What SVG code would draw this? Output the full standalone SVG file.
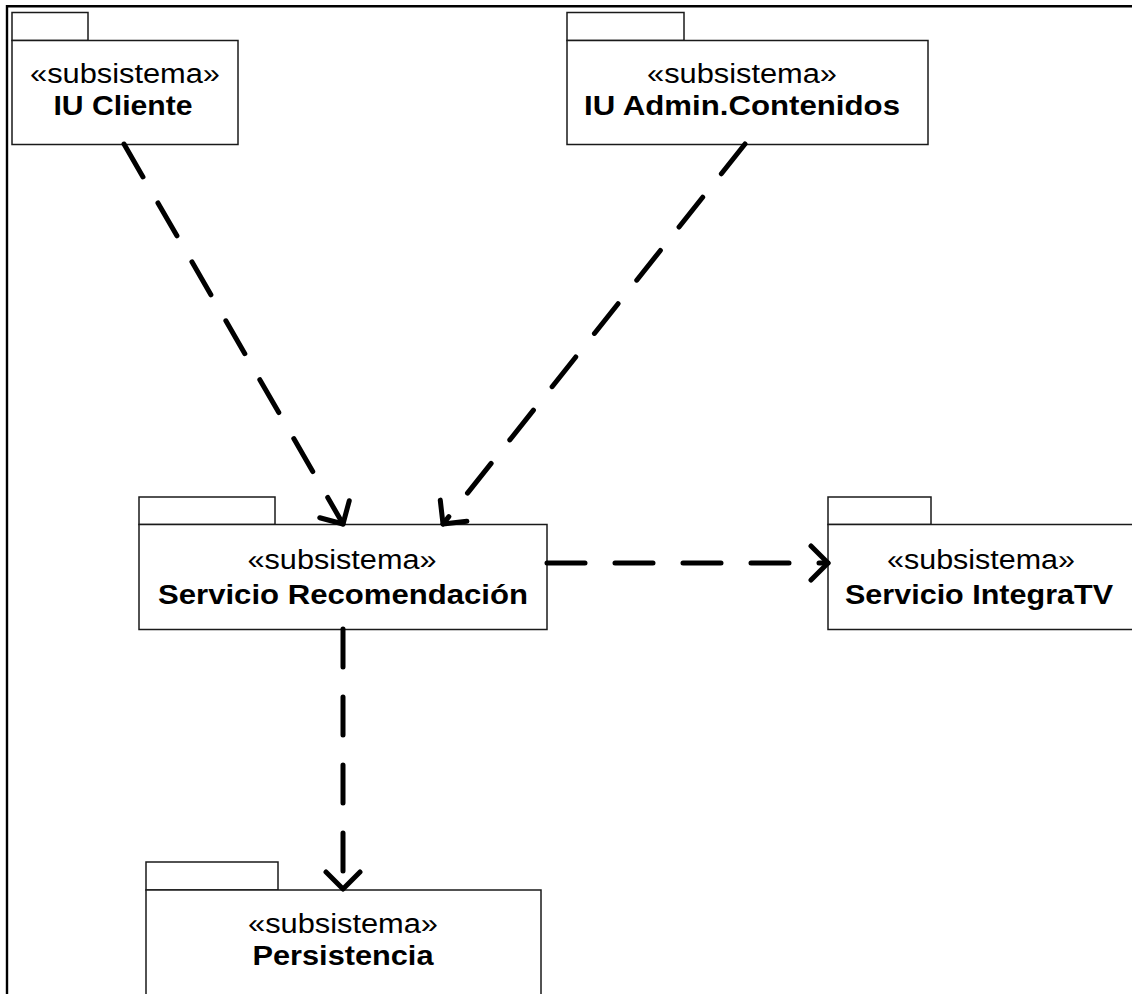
<svg xmlns="http://www.w3.org/2000/svg" width="1132" height="994" viewBox="0 0 1132 994">
  <style>
    .pkg { fill: #ffffff; stroke: #1a1a1a; stroke-width: 1.5; }
    .st { font-family: "Liberation Sans", Arial, sans-serif; font-size: 27px; fill: #000; text-anchor: middle; }
    .nm { font-family: "Liberation Sans", Arial, sans-serif; font-size: 27px; font-weight: bold; fill: #000; text-anchor: middle; }
    .dep { fill: none; stroke: #000; stroke-width: 5; stroke-linecap: round; stroke-dasharray: 38 30; }
    .frame { fill: none; stroke: #000; stroke-width: 2.4; }
  </style>
  <defs>
    <marker id="open" markerUnits="userSpaceOnUse" viewBox="-26 -20 30 40" refX="0" refY="0" markerWidth="30" markerHeight="40" orient="auto">
      <path d="M -17 -17 L 0 0 L -17 17" fill="none" stroke="#000" stroke-width="5" stroke-linecap="round" stroke-linejoin="round"/>
    </marker>
  </defs>

  <rect width="1132" height="994" fill="#ffffff"/>

  <!-- diagram frame -->
  <path class="frame" d="M 7 994 L 7 6.3 L 1140 6.3"/>

  <g id="iu-cliente">
    <rect class="pkg" x="12" y="12.5" width="76" height="28"/>
    <rect class="pkg" x="12" y="40.5" width="226" height="104"/>
    <text class="st" x="125" y="83" textLength="190" lengthAdjust="spacingAndGlyphs">«subsistema»</text>
    <text class="nm" x="123" y="115" textLength="139" lengthAdjust="spacingAndGlyphs">IU Cliente</text>
  </g>

  <g id="iu-admin-contenidos">
    <rect class="pkg" x="567" y="12.5" width="117" height="28"/>
    <rect class="pkg" x="567" y="40.5" width="361" height="104"/>
    <text class="st" x="742" y="83" textLength="190" lengthAdjust="spacingAndGlyphs">«subsistema»</text>
    <text class="nm" x="742" y="115" textLength="316" lengthAdjust="spacingAndGlyphs">IU Admin.Contenidos</text>
  </g>

  <g id="servicio-recomendacion">
    <rect class="pkg" x="139" y="497" width="136" height="27.5"/>
    <rect class="pkg" x="139" y="524.5" width="408" height="105"/>
    <text class="st" x="342" y="569" textLength="189" lengthAdjust="spacingAndGlyphs">«subsistema»</text>
    <text class="nm" x="343" y="604" textLength="370" lengthAdjust="spacingAndGlyphs">Servicio Recomendación</text>
  </g>

  <g id="servicio-integratv">
    <rect class="pkg" x="828" y="497" width="103" height="27.5"/>
    <rect class="pkg" x="828" y="524.5" width="320" height="105"/>
    <text class="st" x="981" y="569" textLength="188" lengthAdjust="spacingAndGlyphs">«subsistema»</text>
    <text class="nm" x="979" y="604" textLength="268" lengthAdjust="spacingAndGlyphs">Servicio IntegraTV</text>
  </g>

  <g id="persistencia">
    <rect class="pkg" x="146" y="862" width="132" height="28"/>
    <rect class="pkg" x="146" y="890" width="395" height="110"/>
    <text class="st" x="343" y="933" textLength="190" lengthAdjust="spacingAndGlyphs">«subsistema»</text>
    <text class="nm" x="343" y="965" textLength="181" lengthAdjust="spacingAndGlyphs">Persistencia</text>
  </g>

  <g id="connectors">
    <line class="dep" x1="124" y1="144" x2="343" y2="524" marker-end="url(#open)"/>
    <line class="dep" x1="745" y1="144" x2="443" y2="524" marker-end="url(#open)"/>
    <line class="dep" x1="547" y1="563" x2="828" y2="563" marker-end="url(#open)"/>
    <line class="dep" x1="343" y1="629" x2="343" y2="889" marker-end="url(#open)"/>
  </g>
</svg>
